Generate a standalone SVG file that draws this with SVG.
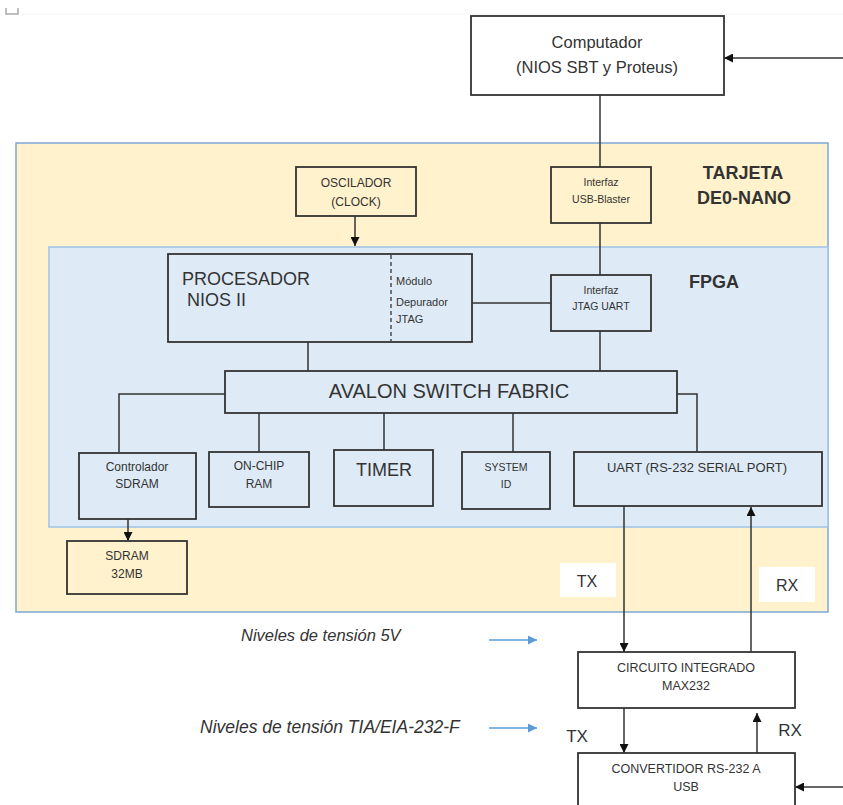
<svg xmlns="http://www.w3.org/2000/svg" width="843" height="805" viewBox="0 0 843 805">
<style>
text{font-family:"Liberation Sans",Arial,sans-serif;fill:#333}
.box{stroke:#333;stroke-width:1.8}
.w{fill:#fff}
.y{fill:#FFF2CC}
.b{fill:#DEEBF7}
.c{fill:none;stroke:#333;stroke-width:1.5}
.bl{fill:none;stroke:#5B9BD5;stroke-width:1.5}
.m{text-anchor:middle}
.it{font-style:italic}
</style>
<defs>
<marker id="ah" viewBox="0 0 10 10" refX="10" refY="5" markerWidth="9" markerHeight="9" markerUnits="userSpaceOnUse" orient="auto"><path d="M0,0L10,5L0,10z" fill="#111"/></marker>
<marker id="ahb" viewBox="0 0 10 10" refX="10" refY="5" markerWidth="9" markerHeight="9" markerUnits="userSpaceOnUse" orient="auto"><path d="M0,0L10,5L0,10z" fill="#5B9BD5"/></marker>
</defs>
<rect width="843" height="805" fill="#fff"/>
<path d="M6,8V14H18V8" fill="none" stroke="#aaa" stroke-width="1.5"/>
<line x1="20" y1="14" x2="843" y2="14" stroke="#f4f4f4" stroke-width="1"/>

<g id="tarjeta"><rect x="16" y="143" width="812" height="469" class="y" stroke="#7FA7D6" stroke-width="1.5"/>
<text x="743" y="179" class="m" font-weight="bold" font-size="18">TARJETA</text>
<text x="744" y="204" class="m" font-weight="bold" font-size="18">DE0-NANO</text></g>
<g id="fpga"><rect x="49" y="247" width="779" height="280" class="b" stroke="#9DC3E6" stroke-width="1.5"/>
<text x="714" y="288" class="m" font-weight="bold" font-size="18">FPGA</text></g>

<g id="connectors">
<line x1="843" y1="58" x2="724" y2="58" class="c" marker-end="url(#ah)"/>
<line x1="600" y1="95" x2="600" y2="167" class="c"/>
<line x1="600" y1="223" x2="600" y2="275" class="c"/>
<line x1="355" y1="216" x2="355" y2="246" class="c" marker-end="url(#ah)"/>
<line x1="472" y1="303" x2="551" y2="303" class="c"/>
<line x1="308" y1="342" x2="308" y2="371" class="c"/>
<line x1="600" y1="331" x2="600" y2="371" class="c"/>
<polyline points="225,394 119,394 119,452" class="c"/>
<line x1="259" y1="413" x2="259" y2="452" class="c"/>
<line x1="384" y1="413" x2="384" y2="450" class="c"/>
<line x1="513" y1="413" x2="513" y2="452" class="c"/>
<polyline points="677,394 697,394 697,452" class="c"/>
<line x1="128" y1="519" x2="128" y2="541" class="c" marker-end="url(#ah)"/>
<line x1="624" y1="506" x2="624" y2="652" class="c" marker-end="url(#ah)"/>
<line x1="751" y1="652" x2="751" y2="507" class="c" marker-end="url(#ah)"/>
<line x1="624" y1="708" x2="624" y2="753" class="c" marker-end="url(#ah)"/>
<line x1="757" y1="753" x2="757" y2="713" class="c" marker-end="url(#ah)"/>
<line x1="843" y1="787" x2="795" y2="787" class="c" marker-end="url(#ah)"/>
<line x1="489" y1="640" x2="537" y2="640" class="bl" marker-end="url(#ahb)"/>
<line x1="489" y1="728" x2="537" y2="728" class="bl" marker-end="url(#ahb)"/>
</g>

<g id="computador"><rect x="471" y="16" width="253" height="79" class="box w"/>
<text x="597" y="48" class="m" font-size="16.5">Computador</text>
<text x="597" y="73" class="m" font-size="16.5">(NIOS SBT y Proteus)</text></g>

<g id="oscilador"><rect x="296" y="167" width="120" height="49" class="box y"/>
<text x="356" y="187" class="m" font-size="12">OSCILADOR</text>
<text x="356" y="206" class="m" font-size="12">(CLOCK)</text></g>

<g id="usbblaster"><rect x="551" y="167" width="100" height="56" class="box y"/>
<text x="601" y="186" class="m" font-size="10.5">Interfaz</text>
<text x="601" y="203" class="m" font-size="10.5">USB-Blaster</text></g>

<g id="procesador"><rect x="168" y="254" width="304" height="88" class="box b"/>
<line x1="391" y1="255" x2="391" y2="341" stroke="#333" stroke-width="1.3" stroke-dasharray="4,3"/>
<text x="182" y="285" font-size="18">PROCESADOR</text>
<text x="187" y="306" font-size="18">NIOS II</text>
<text x="396" y="285" font-size="11">Módulo</text>
<text x="396" y="306" font-size="11">Depurador</text>
<text x="396" y="323" font-size="11">JTAG</text></g>

<g id="jtaguart"><rect x="551" y="275" width="100" height="56" class="box b"/>
<text x="601" y="294" class="m" font-size="10.5">Interfaz</text>
<text x="601" y="310" class="m" font-size="10.5">JTAG UART</text></g>

<g id="avalon"><rect x="225" y="371" width="452" height="42" class="box b"/>
<text x="449" y="398" class="m" font-size="20">AVALON SWITCH FABRIC</text></g>

<g id="ctrlsdram"><rect x="79" y="453" width="117" height="66" class="box b"/>
<text x="137" y="471" class="m" font-size="12">Controlador</text>
<text x="137" y="488" class="m" font-size="12">SDRAM</text></g>

<g id="onchip"><rect x="209" y="452" width="100" height="55" class="box b"/>
<text x="259" y="470" class="m" font-size="12">ON-CHIP</text>
<text x="259" y="488" class="m" font-size="12">RAM</text></g>

<g id="timer"><rect x="334" y="450" width="99" height="56" class="box b"/>
<text x="384" y="476" class="m" font-size="18">TIMER</text></g>

<g id="sysid"><rect x="462" y="452" width="88" height="57" class="box b"/>
<text x="506" y="471" class="m" font-size="10.5">SYSTEM</text>
<text x="506" y="488" class="m" font-size="10.5">ID</text></g>

<g id="uart"><rect x="574" y="452" width="248" height="54" class="box b"/>
<text x="697" y="472" class="m" font-size="13">UART (RS-232 SERIAL PORT)</text></g>

<g id="sdram"><rect x="67" y="541" width="120" height="53" class="box y"/>
<text x="127" y="560" class="m" font-size="12">SDRAM</text>
<text x="127" y="578" class="m" font-size="12">32MB</text></g>

<g id="txlabel"><rect x="560" y="563" width="56" height="34" fill="#fff"/>
<text x="587" y="587" class="m" font-size="16">TX</text></g>
<g id="rxlabel"><rect x="759" y="567" width="56" height="35" fill="#fff"/>
<text x="787" y="591" class="m" font-size="16">RX</text></g>

<g id="max232"><rect x="578" y="652" width="217" height="56" class="box w"/>
<text x="686" y="672" class="m" font-size="12.5">CIRCUITO INTEGRADO</text>
<text x="686" y="690" class="m" font-size="12.5">MAX232</text></g>

<g id="convertidor"><rect x="578" y="753" width="217" height="60" class="box w"/>
<text x="686" y="773" class="m" font-size="12.5">CONVERTIDOR RS-232 A</text>
<text x="686" y="791" class="m" font-size="12.5">USB</text></g>

<g id="labels">
<text x="241" y="641" class="it" font-size="16.5">Niveles de tensión 5V</text>
<text x="200" y="733" class="it" font-size="17.5">Niveles de tensión TIA/EIA-232-F</text>
<text x="577" y="742" class="m" font-size="17">TX</text>
<text x="790" y="736" class="m" font-size="17">RX</text>
</g>
</svg>
